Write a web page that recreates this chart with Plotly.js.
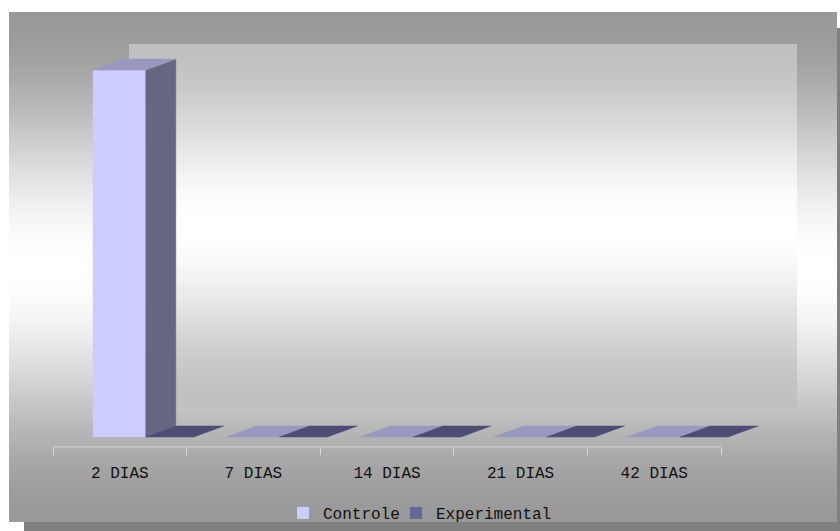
<!DOCTYPE html>
<html><head><meta charset="utf-8">
<script src="https://cdn.plot.ly/plotly-3.0.1.min.js"></script>
<style>html,body{margin:0;padding:0;background:#fff}#chart{width:840px;height:531px}</style>
</head><body><div id="chart"></div>
<script>
// ---- data ----
const categories = ['2 DIAS', '7 DIAS', '14 DIAS', '21 DIAS', '42 DIAS'];
const seriesNames = ['Controle', 'Experimental'];
const controle = [100, 0, 0, 0, 0];
const experimental = [0, 0, 0, 0, 0];
const seriesColors = ['#CCCCFF', '#666699'];

// ---- geometry / style ----
const W = 840, H = 531;
const AX_LEFT = 53, CAT_W = 133.6, PLOT_RIGHT = 800, Y_BOTTOM = 447, Y_TOP = 40;
const BASE_PX = 437, PX_PER_UNIT = 3.67;
const xDomain = [AX_LEFT / W, PLOT_RIGHT / W];
const yDomain = [1 - Y_BOTTOM / H, 1 - Y_TOP / H];
const xRange = [-0.5, -0.5 + (PLOT_RIGHT - AX_LEFT) / CAT_W];
const yRange = [-(Y_BOTTOM - BASE_PX) / PX_PER_UNIT, (BASE_PX - Y_TOP) / PX_PER_UNIT];
const DX = 30 / CAT_W, DY = 11 / PX_PER_UNIT;
const barGeom = [{offset: -27 / CAT_W, width: 53 / CAT_W}, {offset: 26 / CAT_W, width: 48 / CAT_W}];
const FONT = {family: 'Liberation Mono, Courier New, monospace', size: 16, color: '#111'};
const legendNames = ['legend', 'legend2'];
const legendX = [283, 396];

function shade(hex, f) {
  const n = parseInt(hex.slice(1), 16);
  const r = Math.round(((n >> 16) & 255) * f), g = Math.round(((n >> 8) & 255) * f), b = Math.round((n & 255) * f);
  return 'rgb(' + r + ',' + g + ',' + b + ')';
}
function smooth(s) { return s * s * (3 - 2 * s); }
function grey(v) { v = Math.round(v); return 'rgb(' + v + ',' + v + ',' + v + ')'; }

const allSeries = [controle, experimental];
const traces = [];
// front faces as real bar traces
allSeries.forEach((vals, s) => {
  traces.push({
    type: 'bar', name: seriesNames[s], legend: legendNames[s],
    x: categories.map((_, i) => i), y: vals,
    offset: barGeom[s].offset, width: barGeom[s].width,
    marker: {color: seriesColors[s], line: {width: 0}},
    hoverinfo: 'skip'
  });
});
// side and top faces (3D effect) derived from the same data
allSeries.forEach((vals, s) => {
  const sx = [], sy = [], tx = [], ty = [];
  vals.forEach((v, i) => {
    const x0 = i + barGeom[s].offset, x1 = x0 + barGeom[s].width;
    if (v > 0) {
      sx.push(x1, x1 + DX, x1 + DX, x1, x1, null);
      sy.push(0, DY, v + DY, v, 0, null);
    }
    tx.push(x0, x1, x1 + DX, x0 + DX, x0, null);
    ty.push(v, v, v + DY, v + DY, v, null);
  });
  const sideCol = shade(seriesColors[s], 0.5), topCol = shade(seriesColors[s], 0.75);
  traces.push({type: 'scatter', mode: 'lines', x: sx, y: sy, fill: 'toself', fillcolor: sideCol,
    line: {color: sideCol, width: 0.5}, showlegend: false, hoverinfo: 'skip'});
  traces.push({type: 'scatter', mode: 'lines', x: tx, y: ty, fill: 'toself', fillcolor: topCol,
    line: {color: topCol, width: 0.5}, showlegend: false, hoverinfo: 'skip'});
});

// ---- background shapes ----
const shapes = [];
// shadow
shapes.push({type: 'rect', xref: 'paper', yref: 'paper', x0: 24 / W, x1: 1, y0: 0, y1: 1 - 28 / H,
  fillcolor: '#808080', line: {width: 0}, layer: 'below'});
// outer area gradient
const OX0 = 9, OX1 = 837, OY0 = 12, OY1 = 522, STEP = 3;
for (let y = OY0; y < OY1; y += STEP) {
  const t = (y + STEP / 2 - OY0) / (OY1 - OY0);
  const d = Math.abs(2 * t - 1);
  shapes.push({type: 'rect', xref: 'paper', yref: 'paper', x0: OX0 / W, x1: OX1 / W,
    y0: 1 - Math.min(y + STEP, OY1) / H, y1: 1 - y / H,
    fillcolor: grey(153 + 102 * smooth(1 - d)), line: {width: 0}, layer: 'below'});
}
// back wall gradient
const BX0 = 129, BX1 = 797, BY0 = 44, BY1 = 407;
for (let y = BY0; y < BY1; y += STEP) {
  const t = (y + STEP / 2 - BY0) / (BY1 - BY0);
  const d = Math.abs(2 * t - 1);
  shapes.push({type: 'rect', xref: 'paper', yref: 'paper', x0: BX0 / W, x1: BX1 / W,
    y0: 1 - Math.min(y + STEP, BY1) / H, y1: 1 - y / H,
    fillcolor: grey(192 + 63 * smooth(1 - d)), line: {width: 0}, layer: 'below'});
}
// category axis line (floor front edge)
shapes.push({type: 'line', xref: 'x', yref: 'paper', x0: -0.5, x1: categories.length - 0.5,
  y0: yDomain[0], y1: yDomain[0], line: {color: '#d8d8d8', width: 1}, layer: 'below'});

function legendCfg(px) {
  return {orientation: 'h', x: px / W, xanchor: 'left', y: 1 - 513 / H, yanchor: 'middle',
    font: FONT, bgcolor: 'rgba(0,0,0,0)', itemclick: false, itemdoubleclick: false};
}

const layout = {
  width: W, height: H,
  margin: {l: 0, r: 0, t: 0, b: 0},
  paper_bgcolor: '#ffffff', plot_bgcolor: 'rgba(0,0,0,0)',
  barmode: 'overlay',
  showlegend: true,
  legend: legendCfg(legendX[0]),
  legend2: legendCfg(legendX[1]),
  xaxis: {domain: xDomain, range: xRange, showgrid: false, zeroline: false, showline: false,
    tickmode: 'array', tickvals: categories.map((_, i) => i), ticktext: categories,
    ticks: '', ticklabelstandoff: 14, tickfont: FONT,
    minor: {tickmode: 'array', tickvals: categories.map((_, i) => i - 0.5).concat([categories.length - 0.5]),
      ticks: 'outside', ticklen: 7, tickcolor: '#d8d8d8', tickwidth: 1, showgrid: false},
    fixedrange: true},
  yaxis: {domain: yDomain, range: yRange, visible: false, showgrid: false, zeroline: false, fixedrange: true},
  shapes: shapes
};

Plotly.newPlot('chart', traces, layout, {displayModeBar: false, staticPlot: true});
</script>
</body></html>
